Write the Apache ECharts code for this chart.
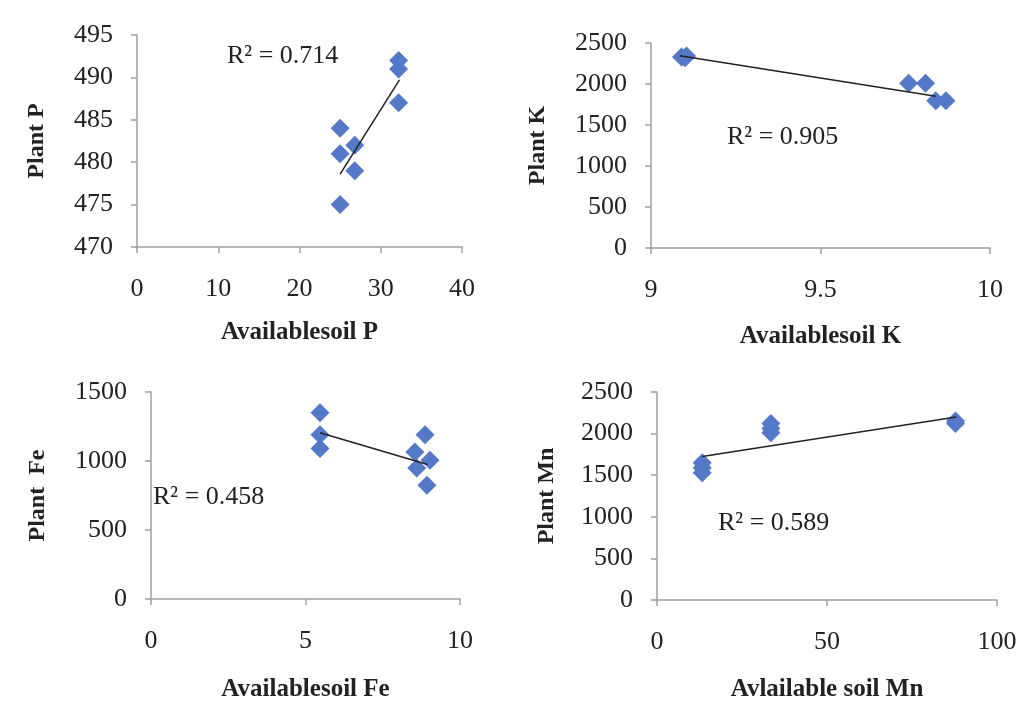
<!DOCTYPE html>
<html style="height: 100%">
<head>
    <meta charset="utf-8">
    <title>Plant vs available soil nutrients</title>
    <script type="text/javascript" src="https://cdn.jsdelivr.net/npm/echarts@6/dist/echarts.min.js"></script>
</head>
<body style="height: 100%; margin: 0; background: #fff;">
<div id="container" style="width: 1028px; height: 704px;"></div>
<script type="text/javascript">
    // values
    var pSoil = [25, 25, 25, 26.8, 26.8, 32.2, 32.2, 32.2];
    var pPlant = [484, 481, 475, 482, 479, 492, 491, 487];
    var pTrend = [[25, 478.6], [32.3, 489.7]];

    var kSoil = [9.09, 9.1, 9.105, 9.76, 9.81, 9.84, 9.87];
    var kPlant = [2330, 2320, 2340, 2010, 2010, 1795, 1795];
    var kTrend = [[9.085, 2345], [9.84, 1850]];

    var feSoil = [5.47, 5.47, 5.47, 8.87, 8.54, 9.03, 8.6, 8.93];
    var fePlant = [1350, 1190, 1090, 1190, 1065, 1005, 950, 825];
    var feTrend = [[5.47, 1205], [8.95, 975]];

    var mnSoil = [13.3, 13.3, 13.3, 33.5, 33.5, 33.5, 87.8, 87.8];
    var mnPlant = [1530, 1590, 1650, 2010, 2060, 2120, 2120, 2150];
    var mnTrend = [[13.3, 1725], [88, 2200]];

    var r2Labels = ['R\u00b2 = 0.714', 'R\u00b2 = 0.905', 'R\u00b2 = 0.458', 'R\u00b2 = 0.589'];
    var xNames = ['Availablesoil P', 'Availablesoil K', 'Availablesoil Fe', 'Avlailable soil Mn'];
    var yNames = ['Plant P', 'Plant K', 'Plant  Fe', 'Plant Mn'];

    var serif = 'Liberation Serif';
    var blue = '#5479c9';
    var axisGray = '#a0a0a0';

    function pairs(xs, ys) {
        var out = [];
        for (var i = 0; i < xs.length; i++) {
            out.push([xs[i], ys[i]]);
        }
        return out;
    }

    // grid boxes and label placement per panel
    var panels = [
        {grid: {left: 137, top: 35, width: 325, height: 212}, x: [0, 40, 10], y: [470, 495, 5], yGap: 88, xGap: 73, r2: [227, 43]},
        {grid: {left: 651, top: 43, width: 339, height: 205}, x: [9, 10, 0.5], y: [0, 2500, 500], yGap: 101, xGap: 76, r2: [727, 124]},
        {grid: {left: 151, top: 392, width: 309, height: 207}, x: [0, 10, 5], y: [0, 1500, 500], yGap: 101, xGap: 78, r2: [153, 484]},
        {grid: {left: 657, top: 392, width: 340, height: 208}, x: [0, 100, 50], y: [0, 2500, 500], yGap: 98, xGap: 77, r2: [718, 510]}
    ];
    var points = [pairs(pSoil, pPlant), pairs(kSoil, kPlant), pairs(feSoil, fePlant), pairs(mnSoil, mnPlant)];
    var trends = [pTrend, kTrend, feTrend, mnTrend];

    function plain(v) {
        return String(v);
    }

    var grids = [], xAxes = [], yAxes = [], series = [], titles = [];
    for (var i = 0; i < panels.length; i++) {
        var p = panels[i];
        grids.push(p.grid);
        var axisCommon = {
            axisLine: {show: true, lineStyle: {color: axisGray, width: 1.5}},
            axisTick: {show: true, length: 6, lineStyle: {color: axisGray, width: 1.5}},
            splitLine: {show: false},
            axisLabel: {fontFamily: serif, fontSize: 26, color: '#222', formatter: plain},
            nameLocation: 'middle'
        };
        xAxes.push(echarts.util.merge({
            type: 'value', gridIndex: i, min: p.x[0], max: p.x[1], interval: p.x[2],
            name: xNames[i], nameGap: p.xGap,
            nameTextStyle: {fontFamily: serif, fontSize: 25, fontWeight: 'bold', color: '#222'},
            axisLabel: {margin: 29}
        }, axisCommon));
        yAxes.push(echarts.util.merge({
            type: 'value', gridIndex: i, min: p.y[0], max: p.y[1], interval: p.y[2],
            name: yNames[i], nameGap: p.yGap, nameRotate: 90,
            nameTextStyle: {fontFamily: serif, fontSize: 24, fontWeight: 'bold', color: '#222'},
            axisLabel: {margin: 24}
        }, axisCommon));
        series.push({
            type: 'scatter', xAxisIndex: i, yAxisIndex: i,
            symbol: 'diamond', symbolSize: 19,
            itemStyle: {color: blue, opacity: 1},
            data: points[i]
        });
        series.push({
            type: 'line', xAxisIndex: i, yAxisIndex: i,
            showSymbol: false, symbol: 'none',
            lineStyle: {color: '#222', width: 1.5},
            data: trends[i], z: 3
        });
        titles.push({
            text: r2Labels[i], left: p.r2[0], top: p.r2[1], padding: 0,
            textStyle: {fontFamily: serif, fontSize: 26, fontWeight: 'normal', color: '#222'}
        });
    }

    var myChart = echarts.init(document.getElementById('container'));
    var option = {
        backgroundColor: '#fff',
        animation: false,
        title: titles,
        grid: grids,
        xAxis: xAxes,
        yAxis: yAxes,
        series: series
    };
    myChart.setOption(option, true);
</script>
</body>
</html>
